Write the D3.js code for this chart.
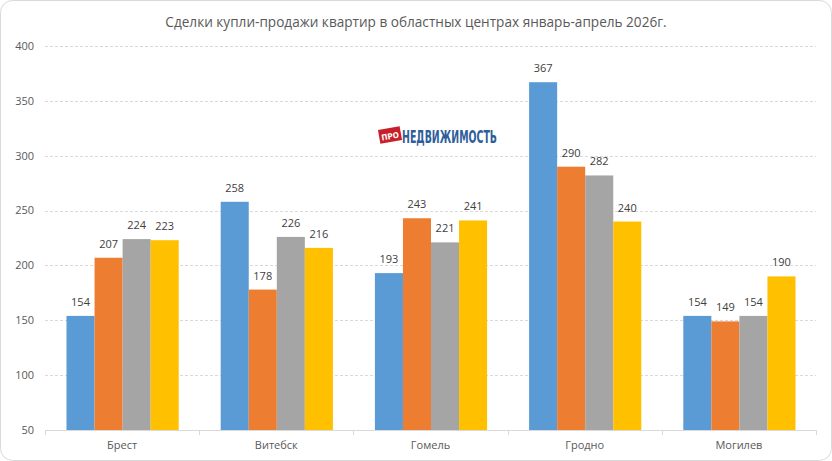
<!DOCTYPE html>
<html>
<head>
<meta charset="utf-8">
<script src="https://cdn.jsdelivr.net/npm/d3@7"></script>
<style>
    body { margin: 0; background: #fff; }
    svg { display: block; font-family: "Open Sans", "DejaVu Sans", sans-serif; }
</style>
</head>
<body>
<div id="chart"></div>
<script>
const width = 832;
const height = 461;

// Data
const cities = ["Брест", "Витебск", "Гомель", "Гродно", "Могилев"];
const months = ["Январь", "Февраль", "Март", "Апрель"];
const jan = [154, 258, 193, 367, 154];
const feb = [207, 178, 243, 290, 149];
const mar = [224, 226, 221, 282, 154];
const apr = [223, 216, 241, 240, 190];
const yTicks = [50, 100, 150, 200, 250, 300, 350, 400];
const colors = ["#5b9bd5", "#ed7d31", "#a5a5a5", "#ffc000"];

const series = [jan, feb, mar, apr];
const margin = {top: 46, right: 16, bottom: 31, left: 45};

const svg = d3.select("#chart")
    .append("svg")
        .attr("width", width)
        .attr("height", height);

// Chart border
svg.append("rect")
    .attr("x", 0.5).attr("y", 0.5)
    .attr("width", width - 1).attr("height", height - 1)
    .attr("rx", 12)
    .attr("fill", "#fff")
    .attr("stroke", "#d9d9d9");

// Title
svg.append("text")
    .attr("x", width / 2)
    .attr("y", 27)
    .attr("text-anchor", "middle")
    .attr("font-size", 13.6)
    .attr("fill", "#595959")
    .text("Сделки купли-продажи квартир в областных центрах январь-апрель 2026г.");

const x = d3.scaleBand()
    .domain(cities)
    .range([margin.left, width - margin.right]);

const xInner = d3.scaleBand()
    .domain(months)
    .range([21.5, x.bandwidth() - 20.5]);

const y = d3.scaleLinear()
    .domain([50, 400])
    .range([height - margin.bottom, margin.top]);

// Gridlines
svg.append("g")
        .attr("stroke", "#d9d9d9")
        .attr("stroke-dasharray", "3,2")
    .selectAll("line")
    .data(yTicks.filter(t => t > 50))
    .join("line")
        .attr("x1", margin.left)
        .attr("x2", width - margin.right)
        .attr("y1", d => Math.round(y(d)) + 0.5)
        .attr("y2", d => Math.round(y(d)) + 0.5);

// Y labels
svg.append("g")
        .attr("font-size", 11)
        .attr("fill", "#595959")
        .attr("text-anchor", "end")
    .selectAll("text")
    .data(yTicks)
    .join("text")
        .attr("x", 34)
        .attr("y", d => y(d))
        .attr("dy", "0.35em")
        .text(d => d);

// Watermark logo
const logo = svg.append("g").attr("transform", "translate(378,124)");
logo.append("rect")
    .attr("x", 1).attr("y", 4)
    .attr("width", 22).attr("height", 14)
    .attr("transform", "rotate(-10,12,11)")
    .attr("fill", "#c8202a");
logo.append("text")
    .attr("x", 12).attr("y", 15)
    .attr("text-anchor", "middle")
    .attr("transform", "rotate(-10,12,11)")
    .attr("font-family", "DejaVu Sans Condensed, DejaVu Sans")
    .attr("font-weight", "bold")
    .attr("font-size", 8)
    .attr("fill", "#fff")
    .text("ПРО");
logo.append("text")
    .attr("x", 24).attr("y", 19)
    .attr("font-family", "DejaVu Sans Condensed, DejaVu Sans")
    .attr("font-weight", "bold")
    .attr("font-size", 17)
    .attr("textLength", 95)
    .attr("lengthAdjust", "spacingAndGlyphs")
    .attr("fill", "#2e5d9b")
    .text("НЕДВИЖИМОСТЬ");

// Bars
const groups = svg.append("g")
    .selectAll("g")
    .data(cities)
    .join("g")
        .attr("transform", d => `translate(${x(d)},0)`);

groups.selectAll("rect")
    .data((c, i) => series.map((s, j) => ({month: months[j], value: s[i], k: j})))
    .join("rect")
        .attr("x", d => xInner(d.month))
        .attr("y", d => y(d.value))
        .attr("width", xInner.bandwidth())
        .attr("height", d => y(50) - y(d.value))
        .attr("fill", d => colors[d.k]);

groups.selectAll("text")
    .data((c, i) => series.map((s, j) => ({month: months[j], value: s[i]})))
    .join("text")
        .attr("x", d => xInner(d.month) + xInner.bandwidth() / 2)
        .attr("y", d => y(d.value) - 10)
        .attr("text-anchor", "middle")
        .attr("font-size", 11)
        .attr("fill", "#404040")
        .text(d => d.value);

// X axis
const axisY = y(50);
svg.append("line")
    .attr("x1", margin.left).attr("x2", width - margin.right)
    .attr("y1", axisY + 0.5).attr("y2", axisY + 0.5)
    .attr("stroke", "#d9d9d9");

svg.append("g")
        .attr("stroke", "#d9d9d9")
    .selectAll("line")
    .data(d3.range(cities.length + 1))
    .join("line")
        .attr("x1", i => Math.round(margin.left + i * x.step()) + 0.5)
        .attr("x2", i => Math.round(margin.left + i * x.step()) + 0.5)
        .attr("y1", axisY)
        .attr("y2", axisY + 5);

svg.append("g")
        .attr("font-size", 11)
        .attr("fill", "#595959")
        .attr("text-anchor", "middle")
    .selectAll("text")
    .data(cities)
    .join("text")
        .attr("x", d => x(d) + x.bandwidth() / 2)
        .attr("y", axisY + 19)
        .text(d => d);
</script>
</body>
</html>
